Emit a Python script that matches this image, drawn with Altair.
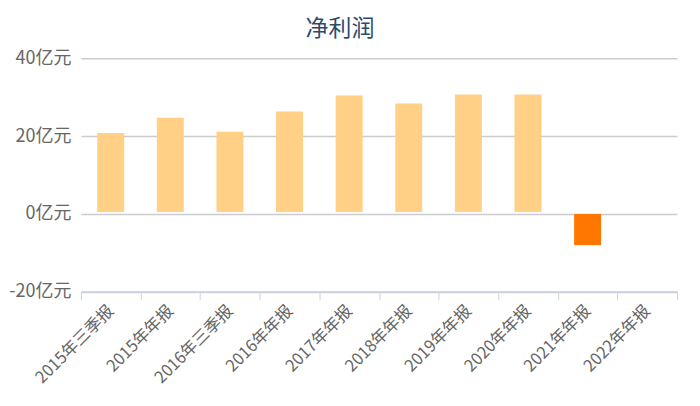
import altair as alt
import pandas as pd

categories = ["2015年三季报", "2015年年报", "2016年三季报", "2016年年报", "2017年年报",
              "2018年年报", "2019年年报", "2020年年报", "2021年年报", "2022年年报"]
values = [20.8, 24.7, 21.1, 26.3, 30.4, 28.4, 30.7, 30.7, -8.0, None]
y_ticks = [-20, 0, 20, 40]

df = pd.DataFrame({"period": categories, "value": values})

FONT = "Noto Sans CJK SC"

x_enc = alt.X("period:N", sort=categories,
              scale=alt.Scale(domain=categories, paddingInner=0, paddingOuter=0),
              axis=alt.Axis(title=None, labelAngle=-45, labelAlign="right", labelBaseline="middle",
                            labelFontSize=16.5, labelColor="#666666", labelFont=FONT,
                            labelPadding=8, tickBand="extent", tickSize=8,
                            domainColor="#c9d3df", tickColor="#c9d3df", domainWidth=2,
                            grid=False))
y_enc = alt.Y("value:Q", scale=alt.Scale(domain=[-20, 40], nice=False),
              axis=alt.Axis(title=None, values=y_ticks, labelExpr="datum.value + '亿元'",
                            labelFontSize=18, labelColor="#666666", labelFont=FONT,
                            labelPadding=10, domain=False, ticks=False,
                            grid=True, gridColor="#cccccc", gridWidth=1.5))

base = alt.Chart(df)

pos = base.transform_filter("datum.value > 0").mark_bar(size=27, color="#FFD085", y2Offset=-2).encode(
    x=x_enc, y=y_enc, y2=alt.datum(0))
neg = base.transform_filter("datum.value < 0").mark_bar(size=27, color="#FF7700").encode(
    x=x_enc, y=y_enc, y2=alt.datum(0))

chart = alt.layer(pos, neg).properties(
    width=597, height=234,
    title=alt.TitleParams("净利润", fontSize=23, font=FONT, fontWeight="normal",
                          color="#2e4a6b", anchor="middle", dx=-39, offset=8),
    autosize=alt.AutoSizeParams(type="pad"),
    padding={"left": 0, "top": 10, "right": 14, "bottom": 5},
).configure_view(stroke=None)

chart.save("out.html", embed_options={"renderer": "svg", "actions": False})
